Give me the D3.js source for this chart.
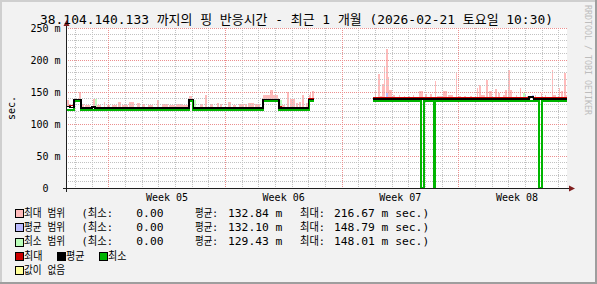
<!DOCTYPE html>
<html><head><meta charset="utf-8">
<script src="https://cdn.jsdelivr.net/npm/d3@7"></script>
<style>
html,body{margin:0;padding:0;background:#f2f2f2;}
svg{display:block;}
text{font-family:"DejaVu Sans Mono","Noto Sans CJK KR",monospace;white-space:pre;}
</style></head><body>
<svg id="chart" width="597" height="284"></svg>
<script>
// ---------------- data ----------------
const titleText = "38.104.140.133 까지의 핑 반응시간 - 최근 1 개월 (2026-02-21 토요일 10:30)";
const yAxisTitle = "sec.";
const yTicks = [0, 50, 100, 150, 200, 250];
const yTickLabels = ["0  ", "50 m", "100 m", "150 m", "200 m", "250 m"];
const weekLabels = ["Week 05", "Week 06", "Week 07", "Week 08"];
const watermark = "RRDTOOL / TOBI OETIKER";

// time given in hours after the left edge of the graph (2026-01-23 12:00 UTC)
const graphHours = 720;
// level changes of avg / max lines (step functions)
const levelHours = [0, 4, 10, 20, 36, 40, 176, 182, 282, 305, 309, 348, 356, 440, 665, 672, 720];
const avgLevels  = [127.5, 125.5, 138.5, 125, 126.5, 125, 138.5, 125, 138.5, 125, 125, 138.5, null, 138.8, 142, 138.8];
const maxLevels  = [128, 129.5, 138.5, 125, 126.5, 125, 138.5, 125, 138.5, 128, 125, 140, null, 141, 143.5, 141];
// min line (with drops to zero)
const minHours  = [0, 10, 20, 176, 182, 282, 305, 348, 356, 440, 510, 514, 528, 530, 680, 684, 720];
const minValues = [122, 135.5, 122, 135.5, 122, 135.5, 122, 135.5, null, 136.5, 0, 136.5, 0, 136.5, 0, 136.5];
// max range (pink) : [startHour, endHour, top ms]
const maxRange = [
 [0,3,137.5],[3,6,132],[17,20,150.5],[20,24,131],[26,33,129.5],[38,40,139],[42,49,130],[53,55,135],
 [58,62,130],[65,72,129.5],[74,78,135],[79,88,130],[89,96,134],[101,105,133.5],[108,112,132],[117,124,130],
 [129,132,137.5],[137,146,132],[147,156,130],[157,166,130.5],[166,175,130],[176,180,143],[192,196,131],
 [199,202,146],[206,210,130.5],[216,219,132.5],[220,223,131],[232,236,135],[239,243,130],[248,255,131],
 [256,259,130.5],[261,269,133.5],[271,278,130.5],[282,292,145],[293,296,153],[296,304,146],[310,314,129],
 [317,319,150.5],[321,328,139],[330,333,133],[334,337,135],[338,341,145.5],[344,347,133],[348,350,146],
 [350,352,150.5],[353,356,152],
 [443,445,151],[445,448,142],[448,451,178],[451,454,143],[454,456,163],[456,458,191],[459,462,216.7],
 [462,464,174],[464,468,153],[470,472,145],[478,480,146],[485,487,144],[492,494,143],[498,500,145],
 [507,513,151],[516,518,147],[523,525,147],[530,532,167],[533,540,143],[541,547,151.5],[549,556,146],
 [560,562,179.5],[565,568,143],[572,575,144],[580,583,143],[590,592,156],[593,596,161],[596,602,145],
 [603,606,168],[607,612,152],[616,619,154],[620,624,148],[628,630,145],[631,633,153],[635,638,185],
 [638,641,153],[646,648,145],[652,654,156],[658,661,146],[663,665,144],[674,676,145],[682,684,149],
 [688,690,145],[698,700,184],[700,704,145],[708,710,156],[712,714,152],[716,718,179],[718,720,145]
];
// avg range (blue) and min range (green)
const avgRange = [[459,462,149],[657,661,147],[669,672,146]];
const minRange = [[40,43,139],[182,186,138],[305,309,138],[656,659,148]];

// legend
const rangeNames = ["최대 범위", "평균 범위", "최소 범위"];
const statMin = ["0.00", "0.00", "0.00"];
const statAvg = ["132.84 m", "132.10 m", "129.43 m"];
const statMax = ["216.67 m", "148.79 m", "148.01 m"];
const lineNames = ["최대", "평균", "최소"];
const noValueName = "값이 없음";

// ---------------- styles ----------------
const C = {
  back: "#f2f2f2", canvas: "#ffffff", shadeA: "#cfcfcf", shadeB: "#9e9e9e",
  grid: "#c2c2c2", mgrid: "#eb8f8f", arrow: "#801f1f", axis: "#1f1f1f",
  maxR: "#ffbbbb", avgR: "#bbbbff", minR: "#bbffbb",
  maxL: "#cc0000", avgL: "#000000", minL: "#00b400", none: "#ffff99"
};
const W = 597, H = 284;
const svg = d3.select("#chart");
const startMs = Date.UTC(2026, 0, 23, 12);
const hd = h => new Date(startMs + h * 3600000);
const x = d3.scaleUtc().domain([hd(0), hd(graphHours)]).range([67, 567]);
const y = d3.scaleLinear().domain([0, 250]).range([188, 28]);

// dotted patterns for grid lines
const defs = svg.append("defs");
function dotPattern(id, color, horiz) {
  const p = defs.append("pattern").attr("id", id).attr("patternUnits", "userSpaceOnUse")
    .attr("width", horiz ? 2 : 1).attr("height", horiz ? 1 : 2);
  p.append("rect").attr("x", 0).attr("y", 0).attr("width", 1).attr("height", 1).attr("fill", color);
}
dotPattern("gridH", C.grid, true);
dotPattern("gridV", C.grid, false);
dotPattern("mgridH", C.mgrid, true);
dotPattern("mgridV", C.mgrid, false);

// background + shade
svg.append("rect").attr("width", W).attr("height", H).attr("fill", C.back);
svg.append("rect").attr("x",0).attr("y",0).attr("width",W).attr("height",2).attr("fill",C.shadeA);
svg.append("rect").attr("x",0).attr("y",0).attr("width",2).attr("height",H).attr("fill",C.shadeA);
svg.append("rect").attr("x",0).attr("y",H-2).attr("width",W).attr("height",2).attr("fill",C.shadeB);
svg.append("rect").attr("x",W-2).attr("y",0).attr("width",2).attr("height",H).attr("fill",C.shadeB);

// canvas
svg.append("rect").attr("x", 67).attr("y", 28).attr("width", 500).attr("height", 160).attr("fill", C.canvas);

// lookup helpers
function levelAt(arrH, arrV, h) {
  for (let i = 0; i < arrH.length - 1; i++) if (h >= arrH[i] && h < arrH[i + 1]) return arrV[i];
  return arrV[arrV.length - 1];
}
const g = svg.append("g").attr("shape-rendering", "crispEdges");

// ranges
function drawRange(data, color, baseFn) {
  g.append("g").selectAll("rect").data(data).join("rect")
    .attr("x", d => x(hd(d[0])))
    .attr("width", d => x(hd(d[1])) - x(hd(d[0])))
    .attr("y", d => y(d[2]))
    .attr("height", d => Math.max(0, y(baseFn(d[0])) - y(d[2])))
    .attr("fill", color);
}
drawRange(maxRange, C.maxR, h => levelAt(levelHours, avgLevels, h) ?? 125);
drawRange(avgRange, C.avgR, h => levelAt(levelHours, avgLevels, h) ?? 125);
drawRange(minRange, C.minR, h => levelAt(minHours, minValues, h) ?? 125);

// grid (1px dotted, drawn as pattern-filled 1px strips)
const gridG = svg.append("g").attr("shape-rendering", "crispEdges");
const days = d3.utcDay.range(hd(0), hd(graphHours));
const mondays = d3.utcMonday.range(hd(0), hd(graphHours));
const hMinor = d3.range(10, 251, 10).filter(v => v % 50 !== 0);
gridG.append("g").selectAll("rect").data(days).join("rect")
  .attr("x", d => Math.floor(x(d))).attr("width", 1).attr("y", 28).attr("height", 160)
  .attr("fill", "url(#gridV)");
gridG.append("g").selectAll("rect").data(hMinor).join("rect")
  .attr("x", 67).attr("width", 500).attr("y", d => Math.floor(y(d))).attr("height", 1)
  .attr("fill", "url(#gridH)");
gridG.append("g").selectAll("rect").data(mondays).join("rect")
  .attr("x", d => Math.floor(x(d))).attr("width", 1).attr("y", 28).attr("height", 160)
  .attr("fill", "url(#mgridV)");
gridG.append("g").selectAll("rect").data(yTicks.filter(v => v > 0)).join("rect")
  .attr("x", 67).attr("width", 500).attr("y", d => Math.floor(y(d))).attr("height", 1)
  .attr("fill", "url(#mgridH)");

// lines (step functions)
function stepPoints(hours, vals) {
  const pts = [];
  for (let i = 0; i < vals.length; i++) {
    pts.push({ h: hours[i], v: vals[i] });
    pts.push({ h: hours[i + 1], v: vals[i] });
  }
  return pts;
}
const line = d3.line().defined(d => d.v != null).x(d => x(hd(d.h))).y(d => y(d.v));
const lg = svg.append("g").attr("fill", "none").attr("shape-rendering", "crispEdges");
lg.append("path").attr("d", line(stepPoints(levelHours, maxLevels))).attr("stroke", C.maxL).attr("stroke-width", 1);
lg.append("path").attr("d", line(stepPoints(minHours, minValues))).attr("stroke", C.minL).attr("stroke-width", 2);
lg.append("path").attr("d", line(stepPoints(levelHours, avgLevels))).attr("stroke", C.avgL).attr("stroke-width", 1.6);

// axes
const ax = svg.append("g").attr("shape-rendering", "crispEdges");
ax.append("line").attr("x1", 63).attr("x2", 571).attr("y1", 188.5).attr("y2", 188.5).attr("stroke", C.axis);
ax.append("line").attr("x1", 66.5).attr("x2", 66.5).attr("y1", 192).attr("y2", 24).attr("stroke", C.axis);
svg.append("polygon").attr("points", "569,185.5 569,191.5 575,188.5").attr("fill", C.arrow);
svg.append("polygon").attr("points", "63.5,26 69.5,26 66.5,20").attr("fill", C.arrow);

// y tick labels
svg.append("g").selectAll("text").data(yTicks).join("text")
  .attr("x", 60.5).attr("y", d => y(d)).attr("dy", "0.36em")
  .attr("text-anchor", "end").attr("font-size", "10px").attr("fill", "#000")
  .text((d, i) => yTickLabels[i]);

// week labels (centered in each week)
svg.append("g").selectAll("text").data(mondays).join("text")
  .attr("x", d => x(new Date(+d + 3.5 * 86400000))).attr("y", 200.6)
  .attr("text-anchor", "middle").attr("font-size", "10px").attr("fill", "#000")
  .text((d, i) => weekLabels[i]);

// y axis title
svg.append("text").attr("transform", "translate(14.5,108) rotate(-90)")
  .attr("text-anchor", "middle").attr("font-size", "10px").attr("fill", "#000").text(yAxisTitle);

// title
svg.append("text").attr("x", 40).attr("y", 23.5).attr("font-size", "13px").attr("fill", "#000")
  .attr("textLength", 513).attr("lengthAdjust", "spacingAndGlyphs").text(titleText);

// watermark
svg.append("text").attr("transform", "translate(585,5) rotate(90)")
  .attr("font-size", "8.3px").attr("fill", "#bdbdbd").text(watermark);

// legend
const lgd = svg.append("g").attr("font-size", "11.3px").attr("fill", "#000");
function box(xp, top, color) {
  lgd.append("rect").attr("x", xp + 0.5).attr("y", top + 0.5).attr("width", 8).attr("height", 8)
    .attr("fill", color).attr("stroke", "#000").attr("stroke-width", 1).attr("shape-rendering", "crispEdges");
}
function label(xp, base, txt, len, anchor) {
  const t = lgd.append("text").attr("x", xp).attr("y", base).text(txt);
  if (len) t.attr("textLength", len).attr("lengthAdjust", "spacingAndGlyphs");
  if (anchor) t.attr("text-anchor", anchor);
}
const rangeColors = [C.maxR, C.avgR, C.minR];
rangeNames.forEach((name, i) => {
  const top = 209 + 14.25 * i, base = 216.8 + 14.25 * i;
  box(15, top, rangeColors[i]);
  label(24, base, name, 41);
  label(81.5, base, "(최소:", 31.5);
  label(163.5, base, statMin[i], null, "end");
  label(195, base, "평균:", 23);
  label(228, base, statAvg[i]);
  label(300, base, "최대:", 25);
  label(334, base, statMax[i] + " sec.)");
});
{
  const top = 209 + 14.25 * 3, base = 216.8 + 14.25 * 3;
  const lineColors = [C.maxL, C.avgL, C.minL];
  const bx = [15, 57, 99];
  lineNames.forEach((n, i) => { box(bx[i], top, lineColors[i]); label(bx[i] + 9, base, n, 18.5); });
  const top5 = 209 + 14.25 * 4, base5 = 216.8 + 14.25 * 4;
  box(15, top5, C.none);
  label(24, base5, noValueName, 41);
}
</script>
</body></html>
